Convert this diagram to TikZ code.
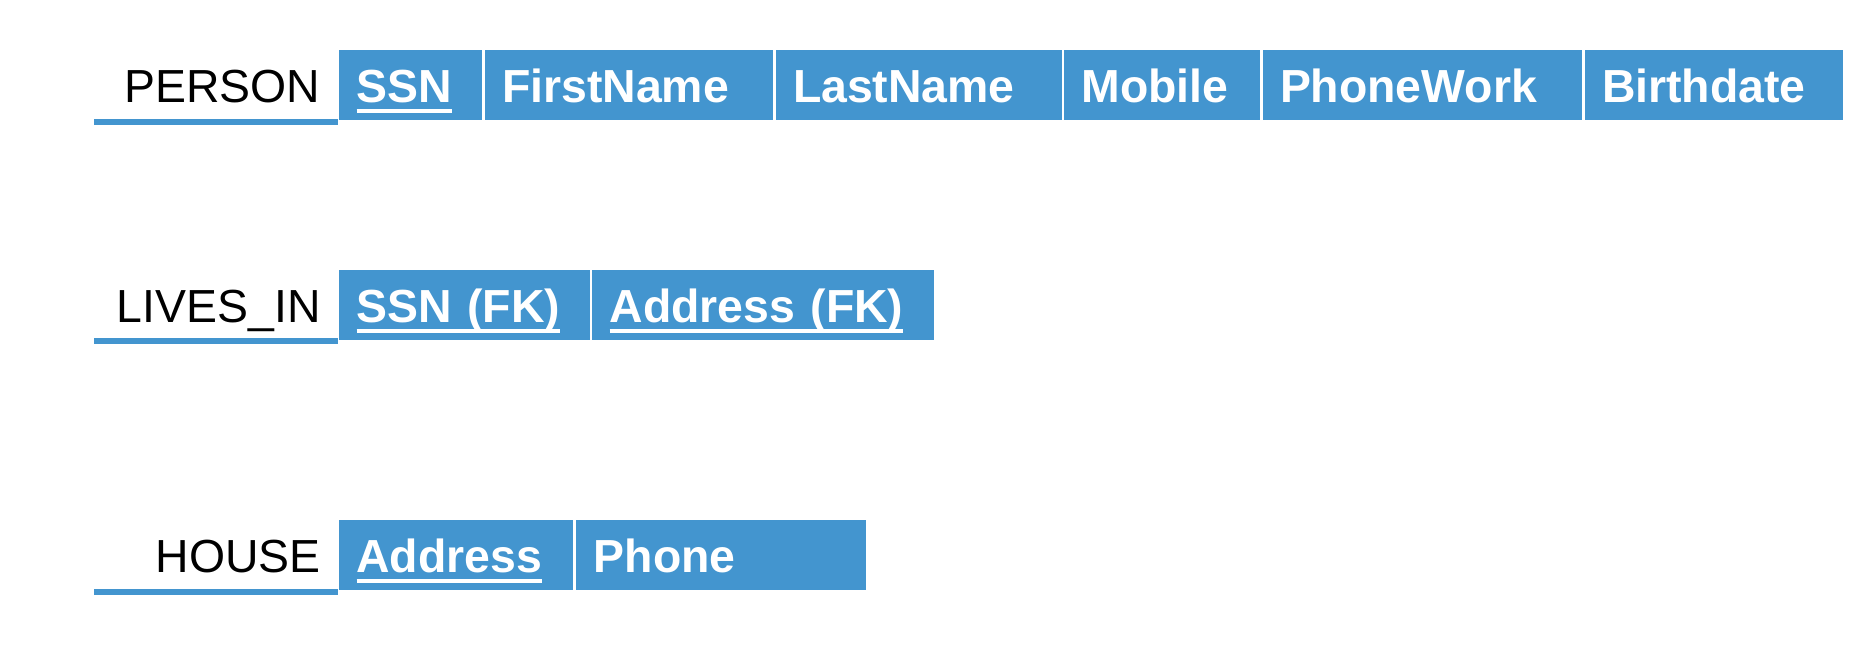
\documentclass[tikz,border=0pt]{standalone}
\usepackage{fontspec}
\setmainfont{Liberation Sans}
\usepackage{tikz}
\usetikzlibrary{positioning}
\definecolor{relblue}{RGB}{67,149,207}
\newsavebox\keybox
\newcommand\keyattr[1]{\sbox\keybox{#1}\rlap{\rule[-1.06mm]{\wd\keybox}{0.43mm}}\usebox\keybox}
\tikzstyle{attr} = [rectangle, fill=relblue, text=white, font=\fontsize{13.2pt}{15pt}\selectfont\bfseries, inner xsep=1.75mm, inner ysep=0pt, outer sep=0pt, text height=5.27mm, text depth=1.73mm, align=left]
\tikzstyle{relname} = [inner sep=0pt, outer sep=0pt, text height=5.27mm, text depth=1.73mm, font=\fontsize{13.2pt}{15pt}\selectfont]
\tikzstyle{nameline} = [draw=relblue, line width=0.63mm, shorten >=0.14mm]
\tikzstyle{coord} = [coordinate]

\begin{document}
\begin{tikzpicture}[node distance=0.25mm]
	\useasboundingbox (0,0) rectangle (18.64,-6.62);

	% PERSON
	\node [attr, text width=10.8mm, anchor=north west] (pSSN) at (3.39,-0.50) {\keyattr{SSN}};
	\node [attr, text width=25.35mm, right=of pSSN] (pFirst) {FirstName};
	\node [attr, text width=25.1mm, right=of pFirst] (pLast) {LastName};
	\node [attr, text width=16.1mm, right=of pLast] (pMobile) {Mobile};
	\node [attr, text width=28.45mm, right=of pMobile] (pWork) {PhoneWork};
	\node [attr, text width=22.3mm, right=of pWork] (pBirth) {Birthdate};
	\node [relname, node distance=1.85mm, left=of pSSN] (person) {PERSON};
	\node [coord] (pRule) at (0.94,-1.223) {};

	% LIVES_IN
	\node [attr, text width=21.55mm, anchor=north west] (lSSN) at (3.39,-2.70) {\keyattr{SSN (FK)}};
	\node [attr, text width=30.65mm, right=of lSSN] (lAddr) {\keyattr{Address (FK)}};
	\node [relname, node distance=1.85mm, left=of lSSN] (livesin) {LIVES\_IN};
	\node [coord] (lRule) at (0.94,-3.413) {};

	% HOUSE
	\node [attr, text width=19.93mm, anchor=north west] (hAddr) at (3.39,-5.20) {\keyattr{Address}};
	\node [attr, text width=25.5mm, node distance=0.3mm, right=of hAddr] (hPhone) {Phone};
	\node [relname, node distance=1.85mm, left=of hAddr] (house) {HOUSE};
	\node [coord] (hRule) at (0.94,-5.92) {};

	\draw [nameline] (pRule) -- (pRule -| pSSN.west);
	\draw [nameline] (lRule) -- (lRule -| lSSN.west);
	\draw [nameline] (hRule) -- (hRule -| hAddr.west);

\end{tikzpicture}
\end{document}
